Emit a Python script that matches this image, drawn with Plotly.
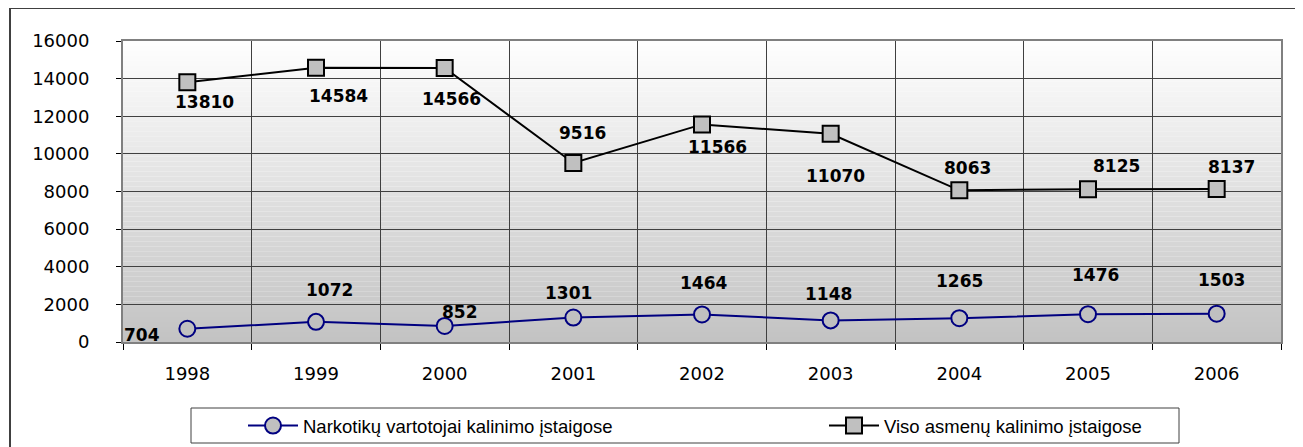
import plotly.graph_objects as go

years = ["1998", "1999", "2000", "2001", "2002", "2003", "2004", "2005", "2006"]
narkotiku = [704, 1072, 852, 1301, 1464, 1148, 1265, 1476, 1503]
viso = [13810, 14584, 14566, 9516, 11566, 11070, 8063, 8125, 8137]

name_nark = "Narkotikų vartotojai kalinimo įstaigose"
name_viso = "Viso asmenų kalinimo įstaigose"

# label offsets (px): dx right, dy down
viso_off = [(17, 20), (22, 28), (7, 31), (9, -30), (15, 23), (5, 42), (8, -22), (28, -23), (15, -22)]
nark_off = [(-45, 6), (13, -32), (15, -14), (-5, -25), (1, -31), (-2, -26), (0, -37), (7, -39), (5, -34)]

xs = list(range(len(years)))

# page has an 8px body margin, so the figure is 8px smaller and margins shifted
PW, PH = 1158, 301


def px(page_x):
    return (page_x - 123) / PW


def py(page_y):
    return (342 - page_y) / PH


fig = go.Figure()
fig.add_trace(go.Scatter(
    x=xs, y=narkotiku, name=name_nark, mode="lines+markers", legend="legend",
    line=dict(color="#000080", width=2),
    marker=dict(symbol="circle", size=16, color="#c0c0c0", line=dict(color="#000080", width=2)),
))
fig.add_trace(go.Scatter(
    x=xs, y=viso, name=name_viso, mode="lines+markers", legend="legend2",
    line=dict(color="#000000", width=2),
    marker=dict(symbol="square", size=16, color="#c0c0c0", line=dict(color="#000000", width=2)),
))

label_font = dict(family="DejaVu Sans, Verdana", size=17, color="#000000")
annotations = []
for series, offs in ((viso, viso_off), (narkotiku, nark_off)):
    for i, v in enumerate(series):
        dx, dy = offs[i]
        annotations.append(dict(x=i, y=v, xref="x", yref="y", text="<b>%d</b>" % v,
                                showarrow=False, xshift=dx, yshift=-dy, font=label_font))

# grey vertical gradient behind the plot area
shapes = []
n = 60
for k in range(n):
    t = (k + 0.5) / n
    c = int(round(0xc2 + (0xff - 0xc2) * t))
    shapes.append(dict(type="rect", xref="x domain", yref="y domain", x0=0, x1=1,
                       y0=k / n, y1=(k + 1) / n, fillcolor="rgb(%d,%d,%d)" % (c, c, c),
                       line=dict(width=0), layer="below"))

# outer chart border
shapes.append(dict(type="rect", xref="paper", yref="paper", x0=px(10), x1=px(1298),
                   y0=py(470), y1=py(8), line=dict(color="#404040", width=2)))
# legend box
shapes.append(dict(type="rect", xref="paper", yref="paper", x0=px(191), x1=px(1179),
                   y0=py(443), y1=py(408), line=dict(color="#404040", width=1)))

tick_font = dict(family="DejaVu Sans", size=18, color="#000000")
legend_font = dict(family="Liberation Sans, Arial", size=18.5, color="#000000")

fig.update_layout(
    width=1295, height=439,
    margin=dict(l=115, r=22, t=33, b=105, autoexpand=False),
    paper_bgcolor="#ffffff", plot_bgcolor="#ffffff",
    showlegend=True,
    legend=dict(orientation="h", x=px(243), xanchor="left", y=py(407), yanchor="top",
                font=legend_font, bgcolor="rgba(0,0,0,0)", borderwidth=0, itemwidth=50),
    legend2=dict(orientation="h", x=px(824), xanchor="left", y=py(407), yanchor="top",
                 font=legend_font, bgcolor="rgba(0,0,0,0)", borderwidth=0, itemwidth=50),
    annotations=annotations,
    shapes=shapes,
)
fig.update_xaxes(
    range=[-0.5, 8.5], tickvals=xs, ticktext=years, ticks="", showgrid=False, zeroline=False,
    tickfont=tick_font, showline=True, linecolor="#808080", linewidth=2, mirror=True,
    ticklabelstandoff=14,
    minor=dict(tick0=-0.5, dtick=1, ticks="outside", ticklen=6, tickcolor="#000000",
               showgrid=True, gridcolor="#404040", gridwidth=1),
)
fig.update_yaxes(
    range=[0, 16000], dtick=2000, tickformat="d", ticks="outside", ticklen=5, tickcolor="#000000",
    showgrid=True, gridcolor="#404040", gridwidth=1, zeroline=False,
    tickfont=tick_font, showline=True, linecolor="#808080", linewidth=2, mirror=True,
    ticklabelstandoff=23,
)

fig.write_html("out.html")
